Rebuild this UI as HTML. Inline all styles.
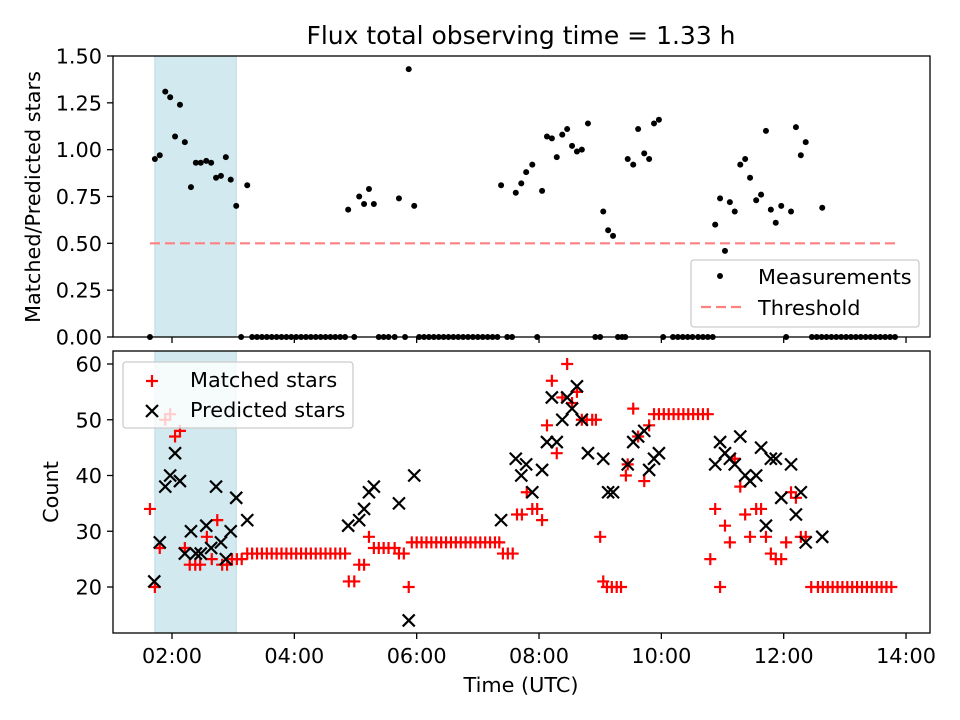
<!DOCTYPE html>
<html><head><meta charset="utf-8"><style>
html,body{margin:0;padding:0;background:#fff;}
svg{display:block;font-family:"DejaVu Sans","Liberation Sans",sans-serif;}
</style></head><body>
<svg id="fig" width="960" height="720" viewBox="0 0 960 720" xmlns="http://www.w3.org/2000/svg">
<rect width="960" height="720" fill="#fff"/>
<text x="521" y="44" font-size="25" text-anchor="middle">Flux total observing time = 1.33 h</text>
<g id="topAxes"></g>
<g id="botAxes"></g>
<text transform="translate(40,197) rotate(-90)" font-size="20.8" text-anchor="middle">Matched/Predicted stars</text>
<text transform="translate(58,492) rotate(-90)" font-size="20.8" text-anchor="middle">Count</text>
<text x="521" y="692" font-size="20.8" text-anchor="middle">Time (UTC)</text>
</svg>
<script>
// ---- data (hours UTC) ----
const shadeStart = 1.72, shadeEnd = 3.05;
const threshold = 0.5;
const ratioTimes = [1.64,1.72,1.80,1.89,1.97,2.05,2.13,2.21,2.31,2.39,2.47,2.56,2.64,2.72,2.80,2.88,2.96,3.05,3.13,3.23,
3.31,3.39,3.47,3.55,3.63,3.71,3.79,3.87,3.95,4.03,4.11,4.19,4.27,4.35,4.43,4.51,4.59,4.67,4.75,4.83,
4.88,4.98,5.06,5.14,5.22,5.30,5.38,5.46,5.54,5.64,5.71,5.81,5.87,5.96,
6.04,6.12,6.20,6.28,6.36,6.44,6.52,6.60,6.68,6.76,6.84,6.92,7.00,7.08,7.16,7.24,7.32,
7.38,7.48,7.56,7.62,7.71,7.79,7.89,7.97,8.05,8.13,8.21,8.29,8.38,8.46,8.54,8.62,8.70,8.80,8.92,9.00,9.05,9.13,9.21,9.29,9.36,9.41,9.45,9.54,9.62,9.72,9.80,9.88,9.96,10.03,
10.19,10.27,10.35,10.43,10.51,10.60,10.68,10.76,10.84,10.88,10.96,11.04,11.12,11.20,11.29,11.37,11.45,11.55,11.63,11.71,11.79,11.87,11.96,12.04,12.12,12.20,12.28,12.36,
12.46,12.54,12.62,12.63,12.70,12.78,12.86,12.94,13.02,13.10,13.18,13.26,13.34,13.42,13.50,13.58,13.66,13.74,13.82];
const ratioValues = [0,0.95,0.97,1.31,1.28,1.07,1.24,1.04,0.80,0.93,0.93,0.94,0.93,0.85,0.86,0.96,0.84,0.70,0,0.81,
0,0,0,0,0,0,0,0,0,0,0,0,0,0,0,0,0,0,0,0,
0.68,0,0.75,0.71,0.79,0.71,0,0,0,0,0.74,0,1.43,0.70,
0,0,0,0,0,0,0,0,0,0,0,0,0,0,0,0,0,
0.81,0,0,0.77,0.82,0.88,0.92,0,0.78,1.07,1.06,0.96,1.08,1.11,1.02,0.99,1.00,1.14,0,0,0.67,0.57,0.54,0,0,0,0.95,0.92,1.11,0.98,0.95,1.14,1.16,0,
0,0,0,0,0,0,0,0,0,0.60,0.74,0.46,0.72,0.67,0.92,0.95,0.85,0.73,0.76,1.10,0.68,0.61,0.70,0,0.67,1.12,0.97,1.04,
0,0,0,0.69,0,0,0,0,0,0,0,0,0,0,0,0,0,0,0];
const matchedTimes = [1.64,1.72,1.80,1.89,1.97,2.05,2.13,2.21,2.29,2.38,2.46,2.57,2.65,2.74,2.82,2.90,2.98,3.06,3.14,
3.23,3.31,3.39,3.47,3.55,3.63,3.71,3.79,3.87,3.95,4.03,4.11,4.19,4.27,4.35,4.43,4.51,4.59,4.67,4.75,4.83,
4.89,4.98,5.06,5.14,5.22,5.30,5.38,5.46,5.54,5.64,5.71,5.79,5.87,
5.92,6.00,6.08,6.16,6.24,6.32,6.40,6.48,6.56,6.64,6.72,6.80,6.88,6.96,7.04,7.12,7.20,7.28,7.35,
7.41,7.49,7.57,7.64,7.72,7.80,7.89,7.97,8.05,8.13,8.21,8.29,8.38,8.46,8.54,8.62,8.70,8.78,8.87,8.93,9.00,9.05,9.11,9.19,9.27,9.34,9.42,9.45,9.54,9.62,9.72,9.80,9.88,
9.96,10.04,10.12,10.20,10.28,10.36,10.44,10.52,10.60,10.68,10.76,10.80,
10.88,10.96,11.04,11.12,11.20,11.29,11.37,11.45,11.55,11.63,11.71,11.79,11.87,11.96,12.04,12.12,12.20,12.28,12.36,12.45,
12.56,12.64,12.72,12.80,12.88,12.96,13.04,13.12,13.20,13.28,13.36,13.44,13.52,13.60,13.68,13.76,13.82];
const matchedValues = [34,20,27,50,51,47,48,27,24,24,24,29,25,32,24,24,25,25,25,
26,26,26,26,26,26,26,26,26,26,26,26,26,26,26,26,26,26,26,26,26,
21,21,24,24,29,27,27,27,27,27,26,26,20,
28,28,28,28,28,28,28,28,28,28,28,28,28,28,28,28,28,28,28,
26,26,26,33,33,37,34,34,32,49,57,44,54,60,53,55,50,50,50,50,29,21,20,20,20,20,40,42,52,47,39,49,
51,51,51,51,51,51,51,51,51,51,51,51,
25,34,20,31,28,43,38,33,29,34,34,29,26,25,25,28,37,36,29,29,
20,20,20,20,20,20,20,20,20,20,20,20,20,20,20,20,20];
const predictedTimes = [1.71,1.80,1.89,1.97,2.05,2.13,2.21,2.31,2.39,2.47,2.56,2.64,2.72,2.80,2.88,2.96,3.05,3.23,
4.88,5.06,5.14,5.22,5.30,5.71,5.87,5.96,
7.38,7.62,7.71,7.79,7.89,8.05,8.13,8.21,8.29,8.38,8.46,8.54,8.62,8.70,8.80,9.05,9.13,9.21,9.45,9.54,9.62,9.72,9.80,9.88,9.96,
10.88,10.96,11.04,11.12,11.20,11.29,11.37,11.45,11.55,11.63,11.71,11.79,11.87,11.96,12.12,12.20,12.28,12.36,12.63];
const predictedValues = [21,28,38,40,44,39,26,30,26,26,31,27,38,28,25,30,36,32,
31,32,34,37,38,35,14,40,
32,43,40,42,37,41,46,54,46,50,54,52,56,50,44,43,37,37,42,46,47,48,41,43,44,
42,46,44,43,42,47,40,39,40,45,31,43,43,36,42,33,37,28,29];
const ratioTicks = ["0.00","0.25","0.50","0.75","1.00","1.25","1.50"];
const ratioTickValues = [0,0.25,0.5,0.75,1.0,1.25,1.5];
const countTickValues = [20,30,40,50,60];
const timeTickValues = [2,4,6,8,10,12,14];
const timeTickLabels = ["02:00","04:00","06:00","08:00","10:00","12:00","14:00"];

// ---- geometry ----
const L=113, R=930;
const T1=56, B1=337, T2=351, B2=633;
const FS=20.8;
const xScale = h => 172 + (h-2)*61.17;
const yTop = v => B1 - v*(B1-T1)/1.5;
const yBot = v => 587 - (v-20)*5.575;
const NS="http://www.w3.org/2000/svg";
function el(parent, tag, attrs){const e=document.createElementNS(NS,tag);for(const k in attrs)e.setAttribute(k,attrs[k]);parent.appendChild(e);return e;}

const topG=document.getElementById('topAxes'), botG=document.getElementById('botAxes');

function axesFrame(g, T, B, nameBase){
  const sh=el(g,'rect',{x:xScale(shadeStart),y:T,width:xScale(shadeEnd)-xScale(shadeStart),height:B-T,fill:'#d3e9f0',stroke:'#b8dbe6','stroke-width':1});
  
  
}
axesFrame(topG,T1,B1,'top');
axesFrame(botG,T2,B2,'bottom');

const th=el(topG,'line',{x1:xScale(1.64),x2:xScale(13.82),y1:yTop(threshold),y2:yTop(threshold),stroke:'#ff8080','stroke-width':2.2,'stroke-dasharray':'10,5'});



ratioTimes.forEach((t,i)=>{
  const c=el(topG,'circle',{cx:xScale(t),cy:yTop(ratioValues[i]),r:3,fill:'#000'});
  
  
});
matchedTimes.forEach((t,i)=>{
  const x=xScale(t), y=yBot(matchedValues[i]);
  const p=el(botG,'path',{d:`M${x-6},${y}H${x+6}M${x},${y-6}V${y+6}`,stroke:'#ff0000','stroke-width':2.2});
  
  
});
predictedTimes.forEach((t,i)=>{
  const x=xScale(t), y=yBot(predictedValues[i]);
  const p=el(botG,'path',{d:`M${x-6},${y-6}L${x+6},${y+6}M${x-6},${y+6}L${x+6},${y-6}`,stroke:'#000','stroke-width':2.2});
  
  
});

[[topG,T1,B1],[botG,T2,B2]].forEach(([g,T,B])=>{
  const f=el(g,'rect',{x:L,y:T,width:R-L,height:B-T,fill:'none',stroke:'#000','stroke-width':1.3});
  
  
  timeTickValues.forEach(h=>{
    const tk=el(g,'line',{x1:xScale(h),x2:xScale(h),y1:B,y2:B+6,stroke:'#000','stroke-width':1.3});
    
    
  });
});
ratioTickValues.forEach((v,i)=>{
  const y=yTop(v);
  el(topG,'line',{x1:L-6,x2:L,y1:y,y2:y,stroke:'#000','stroke-width':1.3});
  const t=el(topG,'text',{x:L-11,y:y+7.5,'font-size':FS,'text-anchor':'end'});
  t.textContent=ratioTicks[i];
  
  
});
countTickValues.forEach(v=>{
  const y=yBot(v);
  el(botG,'line',{x1:L-6,x2:L,y1:y,y2:y,stroke:'#000','stroke-width':1.3});
  const t=el(botG,'text',{x:L-11,y:y+7.5,'font-size':FS,'text-anchor':'end'});
  t.textContent=String(v);
  
  
});
timeTickValues.forEach((h,i)=>{
  const t=el(botG,'text',{x:xScale(h),y:B2+30,'font-size':FS,'text-anchor':'middle'});
  t.textContent=timeTickLabels[i];
  
  
});

const lg1=el(topG,'g',{});


el(lg1,'rect',{x:691,y:260,width:228,height:67,rx:3,fill:'rgba(255,255,255,0.8)',stroke:'#ccc','stroke-width':1.3});
el(lg1,'circle',{cx:720,cy:276,r:3,fill:'#000'});
el(lg1,'line',{x1:701,x2:742,y1:307,y2:307,stroke:'#ff8080','stroke-width':2.2,'stroke-dasharray':'10,5'});
let t1=el(lg1,'text',{x:758,y:284,'font-size':FS});t1.textContent='Measurements';
let t2=el(lg1,'text',{x:758,y:315,'font-size':FS});t2.textContent='Threshold';

const lg2=el(botG,'g',{});


el(lg2,'rect',{x:123,y:362,width:230,height:66,rx:3,fill:'rgba(255,255,255,0.8)',stroke:'#ccc','stroke-width':1.3});
el(lg2,'path',{d:'M146,381H158M152,375V387',stroke:'#ff0000','stroke-width':2.2});
el(lg2,'path',{d:'M146,405L158,417M146,417L158,405',stroke:'#000','stroke-width':2.2});
let t3=el(lg2,'text',{x:190,y:387,'font-size':FS});t3.textContent='Matched stars';
let t4=el(lg2,'text',{x:190,y:417,'font-size':FS});t4.textContent='Predicted stars';
</script>
</body></html>
